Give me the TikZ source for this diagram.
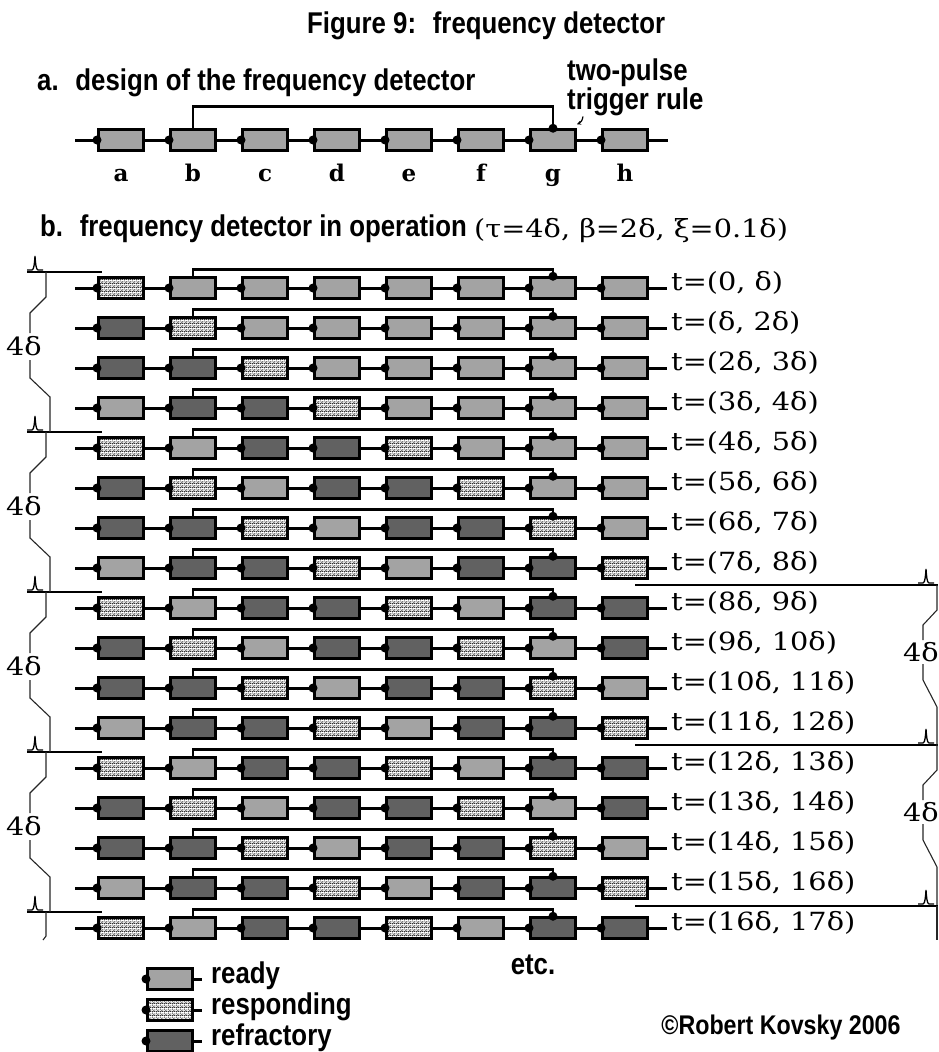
\documentclass[tikz,border=0pt]{standalone}
\usepackage{fontspec}
\usetikzlibrary{patterns,arrows.meta}

\newfontfamily\headfont[FakeStretch=0.86]{Liberation Sans}
\newfontfamily\timefont[FakeStretch=1.15]{DejaVu Serif}
\newfontfamily\letterfont{DejaVu Serif}

\definecolor{ready}{gray}{0.64}
\definecolor{refr}{gray}{0.38}

% stippled fill of a responding cell
\pgfdeclarepatternformonly{speckle}{\pgfqpoint{0pt}{0pt}}{\pgfqpoint{4pt}{4pt}}{\pgfqpoint{4pt}{4pt}}{%
	\pgfpathrectangle{\pgfqpoint{0pt}{0pt}}{\pgfqpoint{1pt}{1pt}}%
	\pgfpathrectangle{\pgfqpoint{2pt}{0pt}}{\pgfqpoint{1pt}{1pt}}%
	\pgfpathrectangle{\pgfqpoint{1pt}{1pt}}{\pgfqpoint{1pt}{1pt}}%
	\pgfpathrectangle{\pgfqpoint{3pt}{2pt}}{\pgfqpoint{1pt}{1pt}}%
	\pgfpathrectangle{\pgfqpoint{0pt}{3pt}}{\pgfqpoint{1pt}{1pt}}%
	\pgfpathrectangle{\pgfqpoint{2pt}{2pt}}{\pgfqpoint{1pt}{1pt}}%
	\pgfpathrectangle{\pgfqpoint{3pt}{0pt}}{\pgfqpoint{1pt}{1pt}}%
	\pgfusepath{fill}}

\newcommand*{\cellw}{45pt}
\newcommand*{\cellh}{20.5pt}
\newcommand*{\firstcol}{121}
\newcommand*{\colstep}{72}
\newcommand*{\firstrow}{288}
\newcommand*{\rowstep}{40}

% spike drawn above a period line, centred at #1, line at #2
\newcommand*{\spike}[2]{%
	\draw[pulse] ({#1-8},{#2-2}) -- ({#1-3},{#2-2}) .. controls ({#1-1},{#2-2}) and ({#1-0.5},{#2-9}) .. (#1,{#2-16})
		.. controls ({#1+0.5},{#2-9}) and ({#1+1},{#2-2}) .. ({#1+3},{#2-2}) -- ({#1+8},{#2-2});}

\tikzset{
	cell/.style={draw, line width=3pt, minimum width=\cellw, minimum height=\cellh, inner sep=0pt},
	rdy/.style={fill=ready},
	rsp/.style={pattern=speckle, pattern color=black!80},
	rfr/.style={fill=refr},
	wire/.style={line width=3pt},
	fbline/.style={line width=2.6pt},
	sepline/.style={line width=1.1pt},
	span/.style={line width=1.1pt, black!85},
	pulse/.style={line width=1.3pt},
	bftext/.style={font=\headfont\bfseries\fontsize{30pt}{27pt}\selectfont, inner sep=0pt},
	tlbl/.style={font=\timefont\fontsize{25pt}{28pt}\selectfont, inner sep=0pt},
	lettr/.style={font=\letterfont\bfseries\fontsize{23pt}{26pt}\selectfont, inner sep=0pt}
}

\begin{document}
\begin{tikzpicture}[x=1pt,y=-1pt]
	\useasboundingbox (0,0) rectangle (938,1052);

	% headings
	\node[bftext, anchor=base west] (title) at (307,33) {Figure 9:~ frequency detector};
	\node[bftext, anchor=base west] (parta) at (37,90) {a.~ design of the frequency detector};
	\node[bftext, anchor=north west, align=left] (rule) at (567,59) {two-pulse\\trigger rule};
	\node[bftext, anchor=base west] (partb) at (40,236) {b.~ frequency detector in operation};
	\node[tlbl, anchor=base west] (param) at (474,237) {(τ=4δ, β=2δ, ξ=0.1δ)};

	% design
	\coordinate (ain) at (75,140);
	\coordinate (aout) at (668,140);
	\foreach \nm [count=\col] in {a,...,h} {
		\node[cell, rdy] (a\col) at ({\firstcol+\colstep*(\col-1)},140) {};
		\node[lettr, anchor=base] (n\col) at ({\firstcol+\colstep*(\col-1)},181) {\nm};
	}
	\draw[wire] (ain) -- (a1.west);
	\foreach \col [evaluate=\col as \nx using int(\col+1)] in {1,...,7}
		\draw[wire] (a\col.east) -- (a\nx.west);
	\draw[wire] (a8.east) -- (aout);
	\draw[fbline] (a2.north) -- ++(0,-22) -| (a7.north);
	\foreach \col in {1,...,8}
		\fill (a\col.west) circle (4.5pt);
	\fill (a7.north) circle (4.5pt);
	\draw[-{Stealth[length=4pt,width=4pt]}, line width=1.2pt] ([xshift=16pt]rule.south west) to[bend left=30] ([yshift=4pt]a7.north east);

	% periods, left side
	\foreach \y in {272,432,592,752,912} {
		\draw[sepline] (27,\y) -- (102,\y);
		\spike{35}{\y}
	}
	\foreach \y [count=\k] in {272,432,592,752} {
		\draw[span] (46,\y) -- (46,\y+25) -- (30,\y+41) -- (30,\y+61)
			(30,\y+88) -- (30,\y+106) -- (50,\y+125) -- (50,\y+160);
		\node[tlbl] (lper\k) at (24,\y+74) {4δ};
	}
	\draw[span] (46,912) -- (46,936) -- (43,940);

	% periods, right side
	\foreach \y in {585,745,906} {
		\draw[sepline] (635,\y) -- (938,\y);
		\spike{926}{\y}
	}
	\foreach \y [count=\k] in {585,745} {
		\draw[span] (937,\y) -- (937,\y+25) -- (923,\y+40) -- (923,\y+55)
			(923,\y+79) -- (923,\y+95) -- (937,\y+122) -- (937,\y+160);
		\node[tlbl, anchor=west] (rper\k) at (903,\y+67) {4δ};
	}
	\draw[span] (937,906) -- (937,940);

	% operation
	\foreach \states [count=\row from 0] in {
		{rsp,rdy,rdy,rdy,rdy,rdy,rdy,rdy},
		{rfr,rsp,rdy,rdy,rdy,rdy,rdy,rdy},
		{rfr,rfr,rsp,rdy,rdy,rdy,rdy,rdy},
		{rdy,rfr,rfr,rsp,rdy,rdy,rdy,rdy},
		{rsp,rdy,rfr,rfr,rsp,rdy,rdy,rdy},
		{rfr,rsp,rdy,rfr,rfr,rsp,rdy,rdy},
		{rfr,rfr,rsp,rdy,rfr,rfr,rsp,rdy},
		{rdy,rfr,rfr,rsp,rdy,rfr,rfr,rsp},
		{rsp,rdy,rfr,rfr,rsp,rdy,rfr,rfr},
		{rfr,rsp,rdy,rfr,rfr,rsp,rdy,rfr},
		{rfr,rfr,rsp,rdy,rfr,rfr,rsp,rdy},
		{rdy,rfr,rfr,rsp,rdy,rfr,rfr,rsp},
		{rsp,rdy,rfr,rfr,rsp,rdy,rfr,rfr},
		{rfr,rsp,rdy,rfr,rfr,rsp,rdy,rfr},
		{rfr,rfr,rsp,rdy,rfr,rfr,rsp,rdy},
		{rdy,rfr,rfr,rsp,rdy,rfr,rfr,rsp},
		{rsp,rdy,rfr,rfr,rsp,rdy,rfr,rfr}}{
		\pgfmathsetmacro\ypos{\firstrow+\rowstep*\row}
		\pgfmathtruncatemacro\nxt{\row+1}
		\coordinate (s\row) at (75,\ypos);
		\coordinate (e\row) at (667,\ypos);
		\foreach \st [count=\col] in \states
			\node[cell, \st] (r\row-\col) at ({\firstcol+\colstep*(\col-1)},\ypos) {};
		\draw[wire] (s\row) -- (r\row-1.west);
		\foreach \col [evaluate=\col as \nx using int(\col+1)] in {1,...,7}
			\draw[wire] (r\row-\col.east) -- (r\row-\nx.west);
		\draw[wire] (r\row-8.east) -- (e\row);
		\draw[fbline] (r\row-2.north) -- ++(0,-7) -| (r\row-7.north);
		\foreach \col in {1,...,8}
			\fill (r\row-\col.west) circle (4.5pt);
		\fill (r\row-7.north) circle (4.5pt);
		\ifcase\row \def\tfrom{0}\or \def\tfrom{δ}\else \def\tfrom{\row δ}\fi
		\ifnum\row=0 \def\tto{δ}\else \def\tto{\nxt δ}\fi
		\node[tlbl, anchor=base west] (t\row) at ([shift={(4,2)}]e\row) {t=(\tfrom, \tto)};
	}

	\node[bftext] (etc) at (533,965) {etc.};

	% legend
	\foreach \st/\txt [count=\k] in {rdy/ready, rsp/responding, rfr/refractory} {
		\pgfmathsetmacro\ly{979+31*(\k-1)}
		\coordinate (kl\k) at (142,\ly);
		\coordinate (kr\k) at (202,\ly);
		\node[cell, \st] (key\k) at (170,\ly) {};
		\draw[wire] (kl\k) -- (key\k.west) (key\k.east) -- (kr\k);
		\fill (key\k.west) circle (4.5pt);
		\node[bftext, anchor=base west] (ktxt\k) at (211,\ly+4) {\txt};
	}

	\node[bftext, font=\headfont\bfseries\fontsize{27pt}{27pt}\selectfont] (copy) at (781,1028) {©Robert Kovsky 2006};

\end{tikzpicture}
\end{document}
